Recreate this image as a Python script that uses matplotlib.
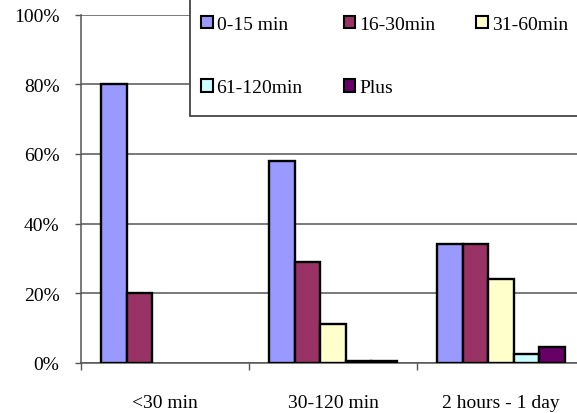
import matplotlib
matplotlib.use("Agg")

import matplotlib.patches as mpatches
import matplotlib.pyplot as plt
import numpy as np
from matplotlib.ticker import FixedLocator, FuncFormatter

# données (en %)
categorias = ["<30 min", "30-120 min", "2 hours - 1 day"]
series = ["0-15 min", "16-30min", "31-60min", "61-120min", "Plus"]
v_0_15 = [80, 58, 34]
v_16_30 = [20, 29, 34]
v_31_60 = [0, 11, 24]
v_61_120 = [0, 0.5, 2.4]
v_plus = [0, 0.5, 4.4]
y_ticks = [0, 20, 40, 60, 80, 100]

cores = ["#9999FF", "#993366", "#FFFFCC", "#CCFFFF", "#660066"]
COR_GRADE = "#555555"

plt.rcParams.update({
    "font.family": ["Liberation Serif", "DejaVu Serif"],
    "font.size": 14,
})

fig = plt.figure(figsize=(5.77, 4.14), dpi=100, facecolor="white")
ax = fig.add_axes([81 / 577, 50.3 / 414, 504 / 577, 348 / 414])

valores = [v_0_15, v_16_30, v_31_60, v_61_120, v_plus]
n = len(series)
larg = 0.152
x = np.arange(len(categorias)) + 0.5
for i, (nome, vals, cor) in enumerate(zip(series, valores, cores)):
    desloc = (i - (n - 1) / 2) * larg
    barras = ax.bar(x + desloc, vals, larg, color=cor, edgecolor="black",
                    linewidth=1.7, label=nome, zorder=3)
    # como no Excel: barra de valor zero não aparece
    for b, v in zip(barras, vals):
        if v == 0:
            b.set_visible(False)

ax.set_xlim(0, len(categorias))
ax.set_ylim(0, 100)

# grade horizontal
ax.set_yticks(y_ticks)
ax.yaxis.set_major_formatter(FuncFormatter(lambda v, _: f"{v:.0f}%"))
ax.yaxis.grid(True, color=COR_GRADE, linewidth=1.1, zorder=0)
ax.set_axisbelow(True)
ax.tick_params(axis="y", direction="out", length=4.5, width=1,
               color=COR_GRADE, pad=11)

# rótulos de categoria no centro, traços nas fronteiras
ax.set_xticks(x)
ax.set_xticklabels(categorias)
ax.tick_params(axis="x", which="major", length=0, pad=22.5)
ax.xaxis.set_minor_locator(FixedLocator(np.arange(len(categorias) + 1)))
ax.tick_params(axis="x", which="minor", direction="out", length=5, width=1,
               color=COR_GRADE)

for lado in ["top", "right"]:
    ax.spines[lado].set_visible(False)
for lado in ["left", "bottom"]:
    ax.spines[lado].set_color(COR_GRADE)
    ax.spines[lado].set_linewidth(1.1)

# caixa da legenda (sai pelo topo e pela direita da figura)
caixa = mpatches.Rectangle((190 / 577, (414 - 117) / 414), 0.8, 0.5,
                           transform=fig.transFigure, facecolor="white",
                           edgecolor="#444444", linewidth=1.3, zorder=2)
fig.add_artist(caixa)

# legenda preenche por coluna -> reordena para ler por linha
ordem = [0, 3, 1, 4, 2]
patches = [mpatches.Patch(facecolor=cores[i], edgecolor="black",
                          linewidth=1.5, label=series[i]) for i in ordem]
leg = fig.legend(handles=patches, loc="upper left",
                 bbox_to_anchor=(201 / 577, (414 - 16.5) / 414),
                 ncol=3, frameon=False, fontsize=14,
                 handlelength=0.6, handleheight=0.6, handletextpad=0.2,
                 columnspacing=2.1, labelspacing=2.4, borderpad=0,
                 borderaxespad=0)
leg.set_zorder(3)

fig.savefig("out.png", dpi=100, facecolor="white")
